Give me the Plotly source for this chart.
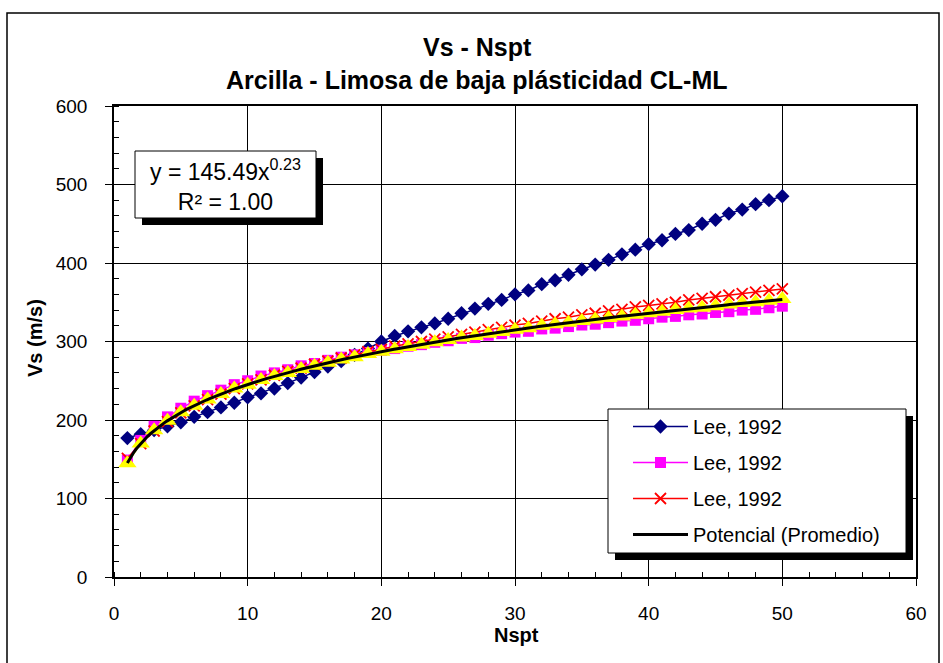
import numpy as np
import plotly.graph_objects as go

# ---------------- data ----------------
nspt = list(range(1, 51))

vs_lee_blue = [177, 182, 187, 192, 197, 204, 210, 216, 222, 229,
               234, 240, 247, 254, 261, 268, 275, 283, 291, 300,
               307, 313, 318, 323, 329, 336, 342, 348, 353, 360,
               365, 373, 378, 385, 392, 398, 404, 411, 417, 424,
               429, 437, 442, 450, 455, 463, 468, 475, 480, 485]

vs_lee_magenta = [149, 174, 192, 204, 215, 224, 231, 238, 245, 250,
                  256, 260, 264, 269, 272, 276, 280, 283, 286, 289,
                  291, 294, 296, 299, 301, 304, 305, 308, 310, 312,
                  313, 316, 317, 319, 321, 322, 324, 326, 327, 329,
                  331, 332, 334, 335, 337, 338, 340, 341, 343, 345]

vs_lee_red = [151, 170, 186, 198, 209, 218, 226, 233, 240, 246,
              251, 257, 262, 266, 271, 275, 279, 283, 287, 290,
              294, 297, 300, 303, 306, 309, 312, 315, 318, 321,
              323, 326, 329, 331, 334, 336, 339, 341, 344, 346,
              348, 350, 353, 355, 357, 359, 361, 363, 365, 367]

vs_promedio = [145, 170, 187, 199, 210, 218, 226, 233, 240, 245,
               251, 256, 260, 265, 269, 273, 277, 280, 284, 287,
               290, 293, 296, 299, 302, 305, 307, 310, 312, 315,
               317, 320, 322, 324, 326, 328, 330, 332, 334, 336,
               338, 340, 342, 343, 345, 347, 349, 350, 352, 354]

legend_names = ["Lee, 1992", "Lee, 1992", "Lee, 1992", "Potencial (Promedio)"]
title_lines = ["Vs - Nspt", "Arcilla - Limosa de baja plásticidad CL-ML"]
eq_text = "y = 145.49x<sup>0.23</sup><br>R² = 1.00"
x_title = "Nspt"
y_title = "Vs (m/s)"

# power trendline fitted to the "Promedio" series (log-log least squares)
b_fit, ln_a = np.polyfit(np.log(nspt), np.log(vs_promedio), 1)
a_fit = np.exp(ln_a)
x_trend = np.linspace(min(nspt), max(nspt), 200)
y_trend = a_fit * x_trend ** b_fit

# ---------------- layout geometry ----------------
W, H = 943, 663
L, R, T, B = 114, 27, 106, 86
PW, PH = W - L - R, H - T - B


def px(xp):
    return (xp - L) / PW


def py(yp):
    return (H - B - yp) / PH


FONT = "Liberation Sans, Arial, sans-serif"

fig = go.Figure()

fig.add_trace(go.Scatter(
    x=nspt, y=vs_lee_blue, name=legend_names[0], mode="lines+markers",
    line=dict(color="#000080", width=1.5),
    marker=dict(symbol="diamond", size=11, color="#000080"),
    legendgroup="g1"))
fig.add_trace(go.Scatter(
    x=nspt, y=vs_lee_magenta, name=legend_names[1], mode="lines+markers",
    line=dict(color="#FF00FF", width=1.5),
    marker=dict(symbol="square", size=11, color="#FF00FF"),
    legendgroup="g2"))
fig.add_trace(go.Scatter(
    x=nspt, y=vs_lee_red, name=legend_names[2], mode="lines+markers",
    line=dict(color="#FF0000", width=1.5),
    marker=dict(symbol="x-thin", size=11, color="#FF0000",
                line=dict(color="#FF0000", width=1.8)),
    legendgroup="g3"))
fig.add_trace(go.Scatter(
    x=nspt, y=vs_promedio, name="Promedio", mode="lines+markers",
    line=dict(color="#FFFF00", width=1.5),
    marker=dict(symbol="triangle-up", size=16, color="#FFFF00"),
    showlegend=False))
fig.add_trace(go.Scatter(
    x=x_trend, y=y_trend, name=legend_names[3], mode="lines",
    line=dict(color="black", width=3),
    legendgroup="g4"))

axis_common = dict(
    showgrid=True, gridcolor="black", gridwidth=1,
    showline=True, linecolor="black", linewidth=1.5, mirror=True,
    zeroline=False, ticks="outside", ticklen=7, tickcolor="black",
    tickfont=dict(family=FONT, size=19, color="black"),
)

fig.update_xaxes(range=[0, 60], tickvals=[0, 10, 20, 30, 40, 50, 60],
                 minor=dict(dtick=2, ticks="inside", ticklen=5,
                            tickcolor="black", showgrid=False),
                 ticklabelstandoff=11, **axis_common)
fig.update_yaxes(range=[0, 600], tickvals=[0, 100, 200, 300, 400, 500, 600],
                 minor=dict(dtick=20, ticks="inside", ticklen=5,
                            tickcolor="black", showgrid=False),
                 ticklabelstandoff=14, **axis_common)

shapes = []
# chart-area frame
shapes.append(dict(type="rect", xref="paper", yref="paper",
                   x0=px(7), x1=px(939), y0=py(668), y1=py(13),
                   line=dict(color="black", width=1.5), fillcolor="rgba(0,0,0,0)",
                   layer="below"))
# equation box with shadow
ex0, ey0, ex1, ey1 = 135, 151, 316, 218
sh = 7
shapes.append(dict(type="rect", xref="paper", yref="paper",
                   x0=px(ex0 + sh), x1=px(ex1 + sh), y0=py(ey1 + sh), y1=py(ey0 + sh),
                   line=dict(width=0), fillcolor="black", layer="above"))
shapes.append(dict(type="rect", xref="paper", yref="paper",
                   x0=px(ex0), x1=px(ex1), y0=py(ey1), y1=py(ey0),
                   line=dict(color="black", width=1), fillcolor="white", layer="above"))
# legend box with shadow
lx0, ly0, lx1, ly1 = 608, 409, 906, 553
shapes.append(dict(type="rect", xref="paper", yref="paper",
                   x0=px(lx0 + sh), x1=px(lx1 + sh), y0=py(ly1 + sh), y1=py(ly0 + sh),
                   line=dict(width=0), fillcolor="black", layer="above"))
shapes.append(dict(type="rect", xref="paper", yref="paper",
                   x0=px(lx0), x1=px(lx1), y0=py(ly1), y1=py(ly0),
                   line=dict(color="black", width=1), fillcolor="white", layer="above"))

annotations = [
    dict(text="<b>" + title_lines[0] + "</b>", xref="paper", yref="paper",
         x=px(477), y=py(47), showarrow=False, xanchor="center", yanchor="middle",
         font=dict(family=FONT, size=25, color="black")),
    dict(text="<b>" + title_lines[1] + "</b>", xref="paper", yref="paper",
         x=px(477), y=py(80), showarrow=False, xanchor="center", yanchor="middle",
         font=dict(family=FONT, size=25, color="black")),
    dict(text=eq_text, xref="paper", yref="paper",
         x=px((ex0 + ex1) / 2), y=py((ey0 + ey1) / 2), showarrow=False,
         xanchor="center", yanchor="middle", align="center",
         font=dict(family=FONT, size=23, color="black")),
    dict(text="<b>" + x_title + "</b>", xref="paper", yref="paper",
         x=px(516), y=py(635), showarrow=False, xanchor="center", yanchor="middle",
         font=dict(family=FONT, size=20, color="black")),
    dict(text="<b>" + y_title + "</b>", xref="paper", yref="paper",
         x=px(35), y=py(338), showarrow=False, xanchor="center", yanchor="middle",
         textangle=-90, font=dict(family=FONT, size=20, color="black")),
]

fig.update_layout(
    width=W, height=H, autosize=False,
    margin=dict(l=L, r=R, t=T, b=B),
    paper_bgcolor="white", plot_bgcolor="white",
    showlegend=True,
    legend=dict(x=px(lx0 + 20), y=py(ly0 - 2), xanchor="left", yanchor="top",
                bgcolor="rgba(0,0,0,0)", borderwidth=0,
                font=dict(family=FONT, size=20, color="black"),
                itemwidth=55, tracegroupgap=7, traceorder="grouped"),
    shapes=shapes, annotations=annotations,
)

fig.write_html("out.html")
